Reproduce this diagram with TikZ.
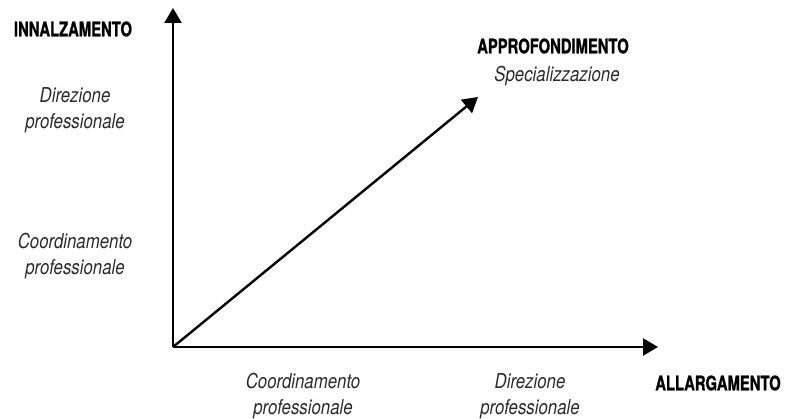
\documentclass[tikz,border=0pt]{standalone}
\usepackage{fontspec}
\setmainfont{TeX Gyre Heros}[FakeStretch=0.82]
\newfontfamily\headfont{TeX Gyre Heros}[FakeStretch=0.74,BoldFeatures={FakeBold=1}]
\usetikzlibrary{arrows.meta}
\definecolor{txtgray}{HTML}{2A2A2A}
\begin{document}
\begin{tikzpicture}[x=1pt,y=-1pt,
  axis/.style={line width=2.4pt,-{Triangle[length=15pt,width=17pt]}},
  head/.style={font=\headfont\fontsize{20}{24}\selectfont\bfseries,inner sep=0pt},
  lvl/.style={font=\fontsize{20.5}{26}\selectfont\itshape,text=txtgray,align=center,inner sep=0pt}]
  \useasboundingbox (0,0) rectangle (792,419);
  \coordinate (o) at (173,347);
  \coordinate (ytip) at (173,8);
  \coordinate (xtip) at (658,347);
  \coordinate (dtip) at (478,97);
  \draw[axis] (o) -- (ytip);
  \draw[axis] (o) -- (xtip);
  \draw[axis] (o) -- (dtip);
  % axis titles
  \node[head] (inn) at (73,29) {INNALZAMENTO};
  \node[head] (app) at (553,46) {APPROFONDIMENTO};
  \node[head] (all) at (718,383) {ALLARGAMENTO};
  % vertical levels
  \node[lvl] (vdir) at (75,110) {Direzione\\professionale};
  \node[lvl] (vcoo) at (75,256) {Coordinamento\\professionale};
  % diagonal level
  \node[lvl] (spec) at (557,76) {Specializzazione};
  % horizontal levels
  \node[lvl] (hcoo) at (303,396) {Coordinamento\\professionale};
  \node[lvl] (hdir) at (530,396) {Direzione\\professionale};
\end{tikzpicture}
\end{document}
